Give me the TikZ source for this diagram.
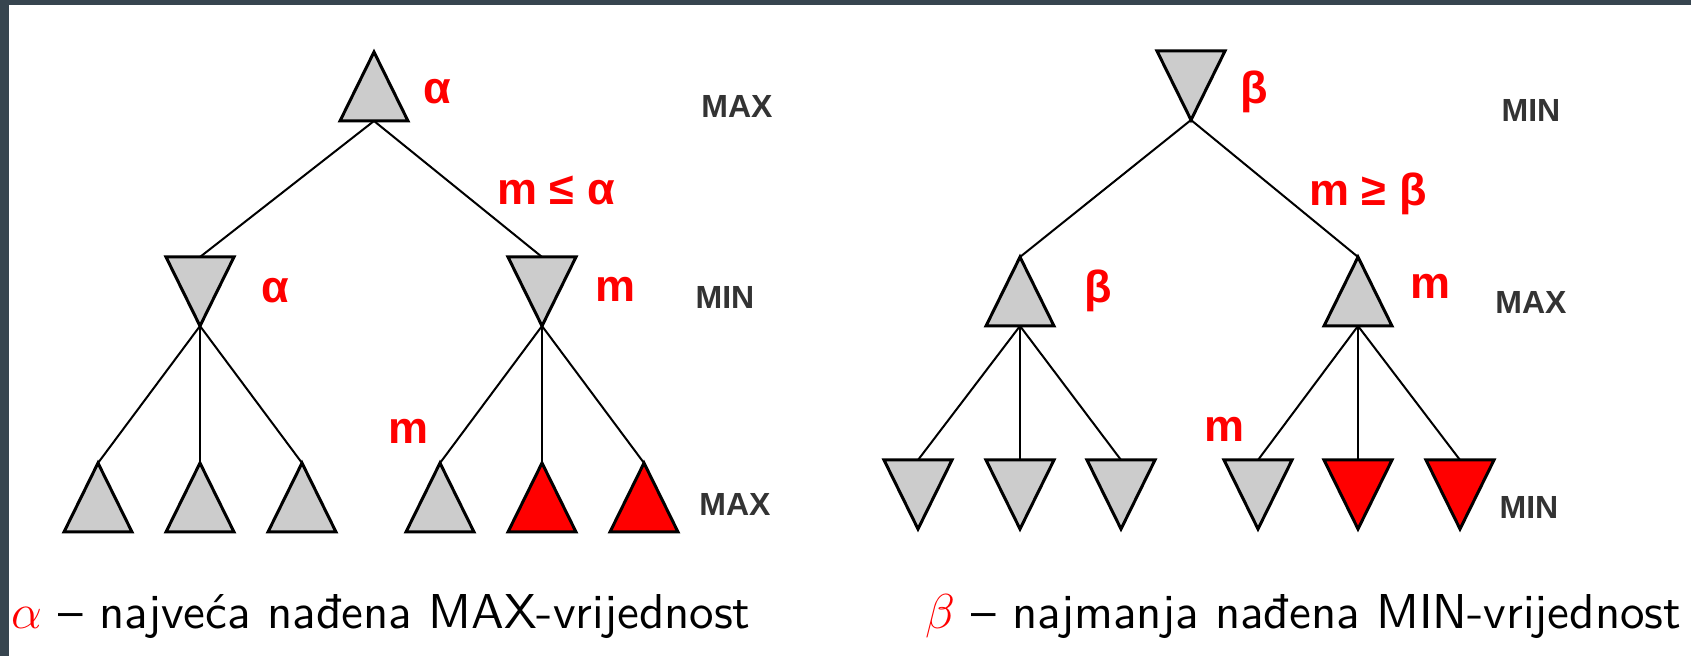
\RequirePackage{fix-cm}
\documentclass[tikz,border=0pt]{standalone}
\usepackage{fontspec}
\newfontfamily\arialf{Liberation Sans}
\newfontfamily\capf{lmsans10-regular.otf}
\definecolor{frame}{HTML}{37454F}
\definecolor{trigray}{HTML}{CCCCCC}
\definecolor{lvl}{HTML}{333333}
\tikzset{
 tri/.style={draw=black, line width=1.5pt, line join=miter},
 edge/.style={draw=black, line width=1pt},
 lab/.style={text=red, font=\arialf\bfseries\fontsize{22.5}{26}\selectfont, inner sep=0pt},
 lev/.style={text=lvl, font=\arialf\bfseries\fontsize{16}{19}\selectfont, inner sep=0pt},
 captext/.style={font=\capf\fontsize{24.5}{29}\selectfont, inner sep=0pt, anchor=west},
 pics/maxt/.style={code={\path[tri,fill=#1] (0,0) -- (34,69) -- (-34,69) -- cycle;
   \coordinate (-top) at (0,0); \coordinate (-bot) at (0,69);}},
 pics/maxt/.default=trigray,
 pics/mint/.style={code={\path[tri,fill=#1] (-34,0) -- (34,0) -- (0,69) -- cycle;
   \coordinate (-top) at (0,0); \coordinate (-bot) at (0,69);}},
 pics/mint/.default=trigray,
}
\begin{document}
\begin{tikzpicture}[x=0.5pt,y=-0.5pt]
\useasboundingbox (0,0) rectangle (1691,656);
\fill[white] (0,0) rectangle (1691,656);
\fill[frame] (0,0) rectangle (1691,5);
\fill[frame] (0,0) rectangle (9,656);

% ---- left tree
\pic (R1) at (374,52) {maxt};
\pic (A1) at (200,257) {mint};
\pic (B1) at (542,257) {mint};
\pic (L1) at (98,463) {maxt};
\pic (L2) at (200,463) {maxt};
\pic (L3) at (302,463) {maxt};
\pic (L4) at (440,463) {maxt};
\pic (L5) at (542,463) {maxt=red};
\pic (L6) at (644,463) {maxt=red};
\draw[edge] (R1-bot) -- (A1-top);
\draw[edge] (R1-bot) -- (B1-top);
\foreach \c in {L1,L2,L3} \draw[edge] (A1-bot) -- (\c-top);
\foreach \c in {L4,L5,L6} \draw[edge] (B1-bot) -- (\c-top);

\node[lab] (la1) at (437,92) {α};
\node[lab] (lmr) at (556,190) {m ≤ α};
\node[lab] (la2) at (275,291) {α};
\node[lab] (lm1) at (615,289) {m};
\node[lab] (lm2) at (408,431) {m};
\node[lev] (lv1) at (737,107) {MAX};
\node[lev] (lv2) at (725,297) {MIN};
\node[lev] (lv3) at (735,504) {MAX};

% ---- right tree
\pic (R2) at (1191,51) {mint};
\pic (C2) at (1020,257) {maxt};
\pic (D2) at (1358,257) {maxt};
\pic (K1) at (918,460) {mint};
\pic (K2) at (1020,460) {mint};
\pic (K3) at (1121,460) {mint};
\pic (K4) at (1258,460) {mint};
\pic (K5) at (1358,460) {mint=red};
\pic (K6) at (1460,460) {mint=red};
\draw[edge] (R2-bot) -- (C2-top);
\draw[edge] (R2-bot) -- (D2-top);
\foreach \c in {K1,K2,K3} \draw[edge] (C2-bot) -- (\c-top);
\foreach \c in {K4,K5,K6} \draw[edge] (D2-bot) -- (\c-top);

\node[lab] (lb1) at (1254,92) {β};
\node[lab] (lmr2) at (1368,194) {m ≥ β};
\node[lab] (lb2) at (1098,291) {β};
\node[lab] (lm3) at (1430,286) {m};
\node[lab] (lm4) at (1224,429) {m};
\node[lev] (lw1) at (1531,111) {MIN};
\node[lev] (lw2) at (1531,302) {MAX};
\node[lev] (lw3) at (1529,507) {MIN};

% ---- captions
\node[captext] (c1) at (11,617) {\textcolor{red}{$\alpha$} – najveća nađena MAX-vrijednost};
\node[captext] (c2) at (925,617) {\textcolor{red}{$\beta$} – najmanja nađena MIN-vrijednost};
\end{tikzpicture}
\end{document}
